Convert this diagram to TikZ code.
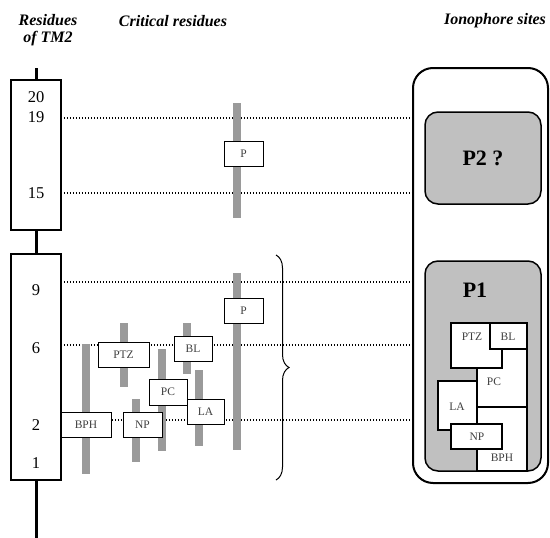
\documentclass[tikz,border=0pt]{standalone}
\usepackage{fontspec}
\setmainfont{Liberation Serif}
\usetikzlibrary{positioning,decorations.pathreplacing}
\definecolor{bargray}{HTML}{9A9A9A}
\definecolor{sitegray}{HTML}{C0C0C0}
\tikzset{
  tmbox/.style={draw, line width=1.5pt, fill=white, minimum width=50pt, inner sep=0pt},
  resbox/.style={draw, line width=0.9pt, fill=white, minimum height=25pt, minimum width=38pt,
    inner sep=0pt, font=\fontsize{11.5}{11.5}\selectfont, text=black!75},
  resbar/.style={fill=bargray, draw=none},
  level/.style={line width=1.2pt, dash pattern=on 1.2pt off 1.8pt},
  head/.style={font=\fontsize{16}{17}\selectfont\bfseries\itshape, align=center},
  num/.style={font=\fontsize{16.5}{16.5}\selectfont},
  site/.style={draw, line width=1.5pt, fill=sitegray, rounded corners=13pt, inner sep=0pt},
  piece/.style={draw, line width=1.1pt, fill=white},
  piecelbl/.style={font=\fontsize{11.5}{11.5}\selectfont, text=black!75}
}

\begin{document}
\begin{tikzpicture}[x=1pt,y=-1pt]
	\useasboundingbox (0,0) rectangle (550,538);

	% headers
	\node[head] (hres) at (48,30) {Residues\\of TM2};
	\node[head] (hcrit) at (173,21) {Critical residues};
	\node[head] (hsite) at (495,21) {Ionophore sites};

	% TM2 helix
	\coordinate (spinetop) at (36,68);
	\coordinate (spinebot) at (36,538);
	\draw[line width=3pt] (spinetop) -- (spinebot);
	\node[tmbox, minimum height=150pt] (tmU) at (36,155) {};
	\node[tmbox, minimum height=226pt] (tmL) at (36,367) {};
	\foreach \n/\y in {20/97, 19/117, 15/193, 9/290, 6/348, 2/425, 1/463}
		\node[num] (n\n) at (36,\y) {\n};

	% ionophore sites
	\node[draw, line width=2pt, rounded corners=20pt, minimum width=135pt, minimum height=415pt] (sites) at (480.5,275.5) {};

	% levels
	\foreach \y in {118,193,282,345,420} {
		\coordinate (lv) at (0,\y);
		\draw[level] ([xshift=2pt]tmU.east |- lv) -- (sites.west |- lv);
	}

	% critical residues
	\foreach \x/\a/\b in {237/103/218, 237/273/450, 86/344/474, 124/323/387,
		136/399/462, 162/349/451, 187/323/374, 199/370/446}
		\fill[resbar] (\x-4,\a) rectangle (\x+4,\b);
	\node[resbox, minimum width=39pt] (Ptop) at (243.5,153.5) {P};
	\node[resbox, minimum width=39pt] (Plow) at (243.5,310.5) {P};
	\node[resbox, minimum width=50pt] (BPH) at (86,424.5) {BPH};
	\node[resbox, minimum width=51pt] (PTZ) at (123.5,354.5) {PTZ};
	\node[resbox, minimum width=39pt] (NP) at (142.5,424.5) {NP};
	\node[resbox, minimum height=26pt] (PC) at (168,392) {PC};
	\node[resbox] (BL) at (193,348.5) {BL};
	\node[resbox, minimum width=37pt] (LA) at (205.5,411.5) {LA};

	\draw[decorate, decoration={brace, amplitude=13pt}, line width=1pt] (276,255) -- (276,480);

	% P2
	\node[site, minimum width=116pt, minimum height=92pt, font=\fontsize{22}{22}\selectfont\bfseries] (p2) at (483,158) {P2 ?};

	% P1
	\node[site, minimum width=116pt, minimum height=210pt] (p1) at (483,366) {};
	\node[font=\fontsize{22}{22}\selectfont\bfseries] (p1lbl) at (475,290) {P1};
	\draw[piece] (477,349) rectangle (527,407);
	\draw[piece] (477,407) rectangle (527,471);
	\draw[piece] (438,381) rectangle (477,430);
	\draw[piece] (451,323) rectangle (502,368);
	\draw[piece] (490,323) rectangle (527,349);
	\draw[piece] (451,424) rectangle (502,449);
	\node[piecelbl] (sPTZ) at (472,337) {PTZ};
	\node[piecelbl] (sBL) at (508,337) {BL};
	\node[piecelbl] (sPC) at (494,382) {PC};
	\node[piecelbl] (sLA) at (457,407) {LA};
	\node[piecelbl] (sNP) at (477,437) {NP};
	\node[piecelbl] (sBPH) at (502,458) {BPH};
\end{tikzpicture}
\end{document}
